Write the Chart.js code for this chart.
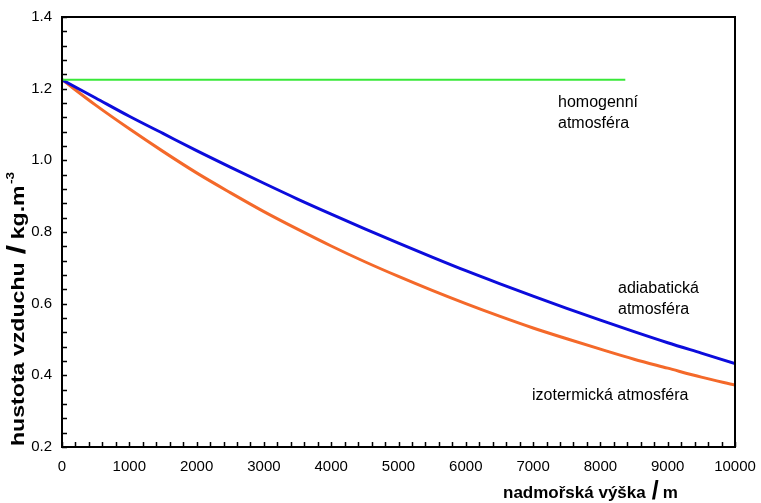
<!DOCTYPE html>
<html>
<head>
<meta charset="utf-8">
<script src="https://cdn.jsdelivr.net/npm/chart.js@4/dist/chart.umd.min.js"></script>
<style>
  body{margin:0;background:#fff;}
  #wrap{width:761px;height:503px;}
</style>
</head>
<body>
<div id="wrap"><canvas id="chart-canvas"></canvas></div>
<script>
// altitude in m
let heights=[0,500,1000,1500,2000,2500,3000,3500,4000,4500,5000,5500,6000,6500,7000,7500,8000,8500,9000,9500,10000];
// air density kg/m3
let adiabatic=[1.225,1.174,1.123,1.075,1.027,0.981,0.936,0.892,0.850,0.809,0.769,0.730,0.692,0.656,0.621,0.587,0.554,0.522,0.491,0.462,0.433];
let isothermal=[1.225,1.154,1.088,1.025,0.965,0.910,0.857,0.808,0.761,0.717,0.676,0.637,0.600,0.565,0.532,0.502,0.473,0.445,0.420,0.395,0.373];
let homogenX=[0,8370];
let homogenY=[1.225,1.225];

let toXY=(xs,ys)=>xs.map((x,i)=>({x:x,y:ys[i]}));

let fontFam='"Liberation Sans", Arial, sans-serif';

// draws "text / unit" with a big slash
function drawUnitTitle(ctx,name,unit,sup){
    ctx.font='bold 17px '+fontFam;
    ctx.fillText(name,0,0);
    let w=ctx.measureText(name).width;
    ctx.font='bold 25px '+fontFam;
    ctx.fillText('/',w+6,1);
    let ws=ctx.measureText('/').width;
    ctx.font='bold 17px '+fontFam;
    let xu=w+ws+10;
    ctx.fillText(unit,xu,0);
    if(sup){
        let wu=ctx.measureText(unit).width;
        ctx.font='bold 10px '+fontFam;
        ctx.fillText(sup,xu+wu+1,-9);
    }
}

// inward tick marks, frame and titles
let decor={
    id:'decor',
    afterDraw(chart){
        let ctx=chart.ctx;
        let a=chart.chartArea;
        let xs=chart.scales.x, ys=chart.scales.y;
        ctx.save();
        ctx.strokeStyle='#000';
        ctx.lineWidth=1.5;
        ctx.beginPath();
        xs.ticks.forEach((t)=>{
            let px=Math.round(xs.getPixelForValue(t.value))+0.5;
            ctx.moveTo(px,a.bottom);
            ctx.lineTo(px,a.bottom-5);
        });
        ys.ticks.forEach((t)=>{
            let py=Math.round(ys.getPixelForValue(t.value))+0.5;
            ctx.moveTo(a.left,py);
            ctx.lineTo(a.left+5,py);
        });
        ctx.stroke();
        ctx.lineWidth=2;
        ctx.strokeRect(a.left,a.top,a.right-a.left,a.bottom-a.top);
        ctx.restore();

        ctx.save();
        ctx.fillStyle='#000';
        ctx.textBaseline='alphabetic';
        ctx.translate(503,498);
        drawUnitTitle(ctx,'nadmořská výška','m');
        ctx.restore();

        ctx.save();
        ctx.fillStyle='#000';
        ctx.textBaseline='alphabetic';
        ctx.translate(24,446);
        ctx.rotate(-Math.PI/2);
        ctx.scale(1.36,1.06);
        drawUnitTitle(ctx,'hustota vzduchu','kg.m','-3');
        ctx.restore();

        // curve labels
        ctx.save();
        ctx.fillStyle='#000';
        ctx.font='16px '+fontFam;
        ctx.textBaseline='middle';
        ctx.fillText('homogenní',558,103);
        ctx.fillText('atmosféra',558,124);
        ctx.fillText('adiabatická',618,289);
        ctx.fillText('atmosféra',618,310);
        ctx.fillText('izotermická atmosféra',532,396);
        ctx.restore();
    }
};

let ctx=document.getElementById('chart-canvas').getContext('2d');
let chart=new Chart(ctx,{
    type:'line',
    data:{
        datasets:[{
            label:'homogenní atmosféra',
            data:toXY(homogenX,homogenY),
            borderColor:'#38e838',
            borderWidth:2
        },{
            label:'adiabatická atmosféra',
            data:toXY(heights,adiabatic),
            borderColor:'#0c0cdc',
            borderWidth:3,
            cubicInterpolationMode:'monotone'
        },{
            label:'izotermická atmosféra',
            data:toXY(heights,isothermal),
            borderColor:'#f4692a',
            borderWidth:3,
            cubicInterpolationMode:'monotone'
        }]
    },
    options:{
        responsive:true,
        maintainAspectRatio:false,
        animation:false,
        elements:{point:{radius:0}},
        layout:{padding:{left:0,top:17,right:26,bottom:0}},
        plugins:{legend:{display:false},tooltip:{enabled:false}},
        scales:{
            x:{
                type:'linear',
                min:0,max:10000,
                afterFit:(s)=>{s.height=56; s.paddingLeft=0; s.paddingRight=0;},
                grid:{drawOnChartArea:false,drawTicks:false},
                border:{display:false},
                ticks:{
                    stepSize:200,
                    autoSkip:false,
                    maxRotation:0,
                    padding:11,
                    color:'#000',
                    font:{family:fontFam,size:15},
                    callback:(v)=> v%1000===0 ? String(v) : ''
                }
            },
            y:{
                type:'linear',
                min:0.2,max:1.4,
                afterFit:(s)=>{s.width=62; s.paddingTop=0; s.paddingBottom=0;},
                grid:{drawOnChartArea:false,drawTicks:false},
                border:{display:false},
                ticks:{
                    stepSize:0.04,
                    autoSkip:false,
                    padding:10,
                    color:'#000',
                    font:{family:fontFam,size:15},
                    callback:(v)=> Math.abs(v*5-Math.round(v*5))<1e-6 ? v.toFixed(1) : ''
                }
            }
        }
    },
    plugins:[decor]
});
</script>
</body>
</html>
